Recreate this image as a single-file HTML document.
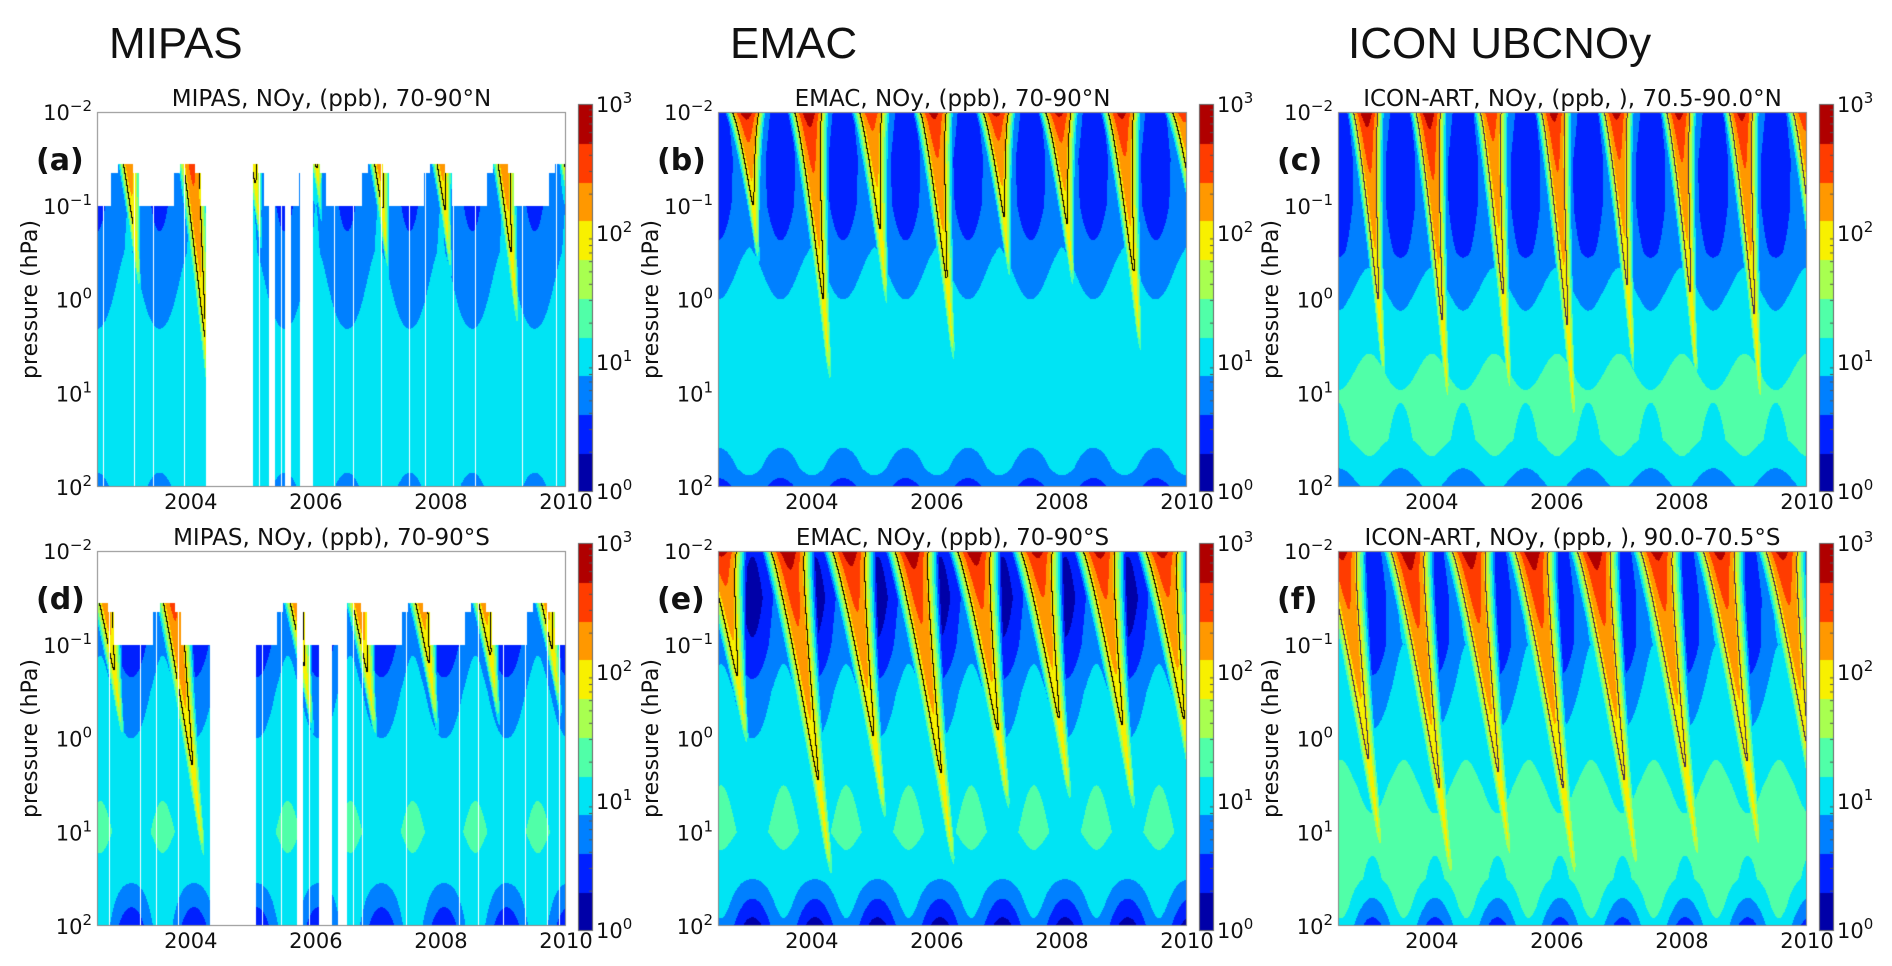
<!DOCTYPE html>
<html><head><meta charset="utf-8">
<style>
html,body{margin:0;padding:0;background:#fff;}
#wrap{position:relative;width:1892px;height:966px;overflow:hidden;}
canvas,svg{position:absolute;left:0;top:0;}
text{font-family:"DejaVu Sans","Liberation Sans",sans-serif;fill:#111;}
</style></head>
<body>
<div id="wrap">
<canvas id="cv" width="1892" height="966"></canvas>
<svg id="sv" width="1892" height="966">
  <text x="109" y="58" style="font-family:'Liberation Sans',sans-serif;font-size:44px">MIPAS</text>
  <text x="730" y="58" style="font-family:'Liberation Sans',sans-serif;font-size:44px">EMAC</text>
  <text x="1348" y="58" style="font-family:'Liberation Sans',sans-serif;font-size:44px">ICON UBCNOy</text>
</svg>
</div>
<script>
// ---- data ----
const levelColors=['#0000a8','#0020ff','#0080ff','#00e4f4','#50ffa8','#a8ff50','#f8f000','#ff9800','#ff3c00','#b00000'];
const xTicks=[2004,2006,2008,2010];
const yTickExp=[-2,-1,0,1,2];
const cbTickExp=[3,2,1,0];
const tStart=2002.5, tEnd=2010;
const bgZ=[-2,-1.5,-1,-0.5,0,0.5,1,1.5,1.8,2];
// background log10(NOy) profiles
const bgMipasN=[0.75,0.7,0.72,0.78,0.9,1.02,1.08,1.1,1.05,0.95];
const bgEmacN=[0.75,0.62,0.64,0.78,1.0,1.05,1.06,1.02,0.86,0.62];
const bgIconN=[0.75,0.62,0.62,0.7,0.95,1.12,1.26,1.22,1.02,0.8];
const bgMipasS=[0.6,0.5,0.62,0.85,1.0,1.12,1.18,1.05,0.85,0.7];
const bgEmacS=[0.62,0.45,0.58,0.85,1.0,1.14,1.2,1.0,0.72,0.5];
const bgIconS=[0.8,0.65,0.65,0.86,1.05,1.2,1.3,1.26,1.02,0.8];
const seasAmpN=[0.3,0.25,0.18,0.13,0.1,0.06,0.05,0.06,0.12,0.15];
const seasAmpS=[0.3,0.3,0.25,0.15,0.1,0.06,0.06,0.1,0.25,0.35];
// descent events: time at top, bottom log10(p), peak log10(NOy)
const evTimesN=[2002.95,2003.95,2004.95,2005.95,2006.95,2007.95,2008.95,2009.95];
const evTimesS=[2002.55,2003.62,2004.6,2005.6,2006.6,2007.6,2008.6,2009.6];
const depthMipasN=[-0.4,1.15,-0.9,-1.2,-0.6,-0.6,0.0,-1.0];
const depthEmacN=[-0.7,0.6,-0.2,0.4,-0.5,-0.4,0.3,-1.0];
const depthIconN=[0.6,0.9,0.8,1.1,0.5,0.6,0.9,-0.2];
const depthMipasS=[-0.3,1.0,-0.5,-0.4,-0.3,-0.4,-0.5,-0.6];
const depthEmacS=[-0.2,1.2,0.6,1.1,0.5,0.4,0.5,0.4];
const depthIconS=[1.0,1.3,1.1,1.3,1.2,1.1,1.0,0.8];
const peakN=[3.0,3.0,2.7,2.9,2.9,2.9,2.9,2.7];
const peakS=[2.9,3.0,3.0,3.0,3.0,2.9,2.9,2.9];
// MIPAS missing data
const gapsN=[[2004.25,2005.0],[2005.25,2005.35],[2005.5,2005.6],[2005.75,2005.95]];
const gapsS=[[2004.3,2005.05],[2005.7,2005.8],[2006.05,2006.25],[2006.35,2006.5]];
const whiteLinesN=[2002.6,2002.85,2003.1,2003.4,2003.65,2003.9,2005.1,2005.2,2005.45,2005.7,2006.0,2006.1,2006.3,2006.45,2006.6,2006.8,2007.05,2007.3,2007.5,2007.75,2008.2,2008.55,2008.85,2009.3,2009.6,2009.85];
const whiteLinesS=[2002.7,2002.9,2003.2,2003.45,2003.8,2004.05,2005.15,2005.3,2005.45,2005.6,2005.9,2006.0,2006.6,2006.75,2006.9,2007.2,2007.45,2007.7,2008.0,2008.3,2008.6,2009.0,2009.35,2009.7,2009.9];

const panels=[
 {id:'a',x:97,y:112,title:'MIPAS, NOy, (ppb), 70-90°N',bg:bgMipasN,sa:seasAmpN,sp:0.0,ev:evTimesN,dep:depthMipasN,pk:peakN,slope:0.12,w0:0.2,mipas:true,gaps:gapsN,lines:whiteLinesN,cl:'#000'},
 {id:'b',x:718,y:112,title:'EMAC, NOy, (ppb), 70-90°N',bg:bgEmacN,sa:seasAmpN,sp:0.0,ev:evTimesN,dep:depthEmacN,pk:peakN,slope:0.12,w0:0.22,cl:'#000'},
 {id:'c',x:1338,y:112,title:'ICON-ART, NOy, (ppb, ), 70.5-90.0°N',bg:bgIconN,sa:seasAmpN,sp:0.0,ev:evTimesN,dep:depthIconN,pk:peakN,slope:0.1,w0:0.2,cl:'#3c2850'},
 {id:'d',x:97,y:551,title:'MIPAS, NOy, (ppb), 70-90°S',bg:bgMipasS,sa:seasAmpS,sp:0.55,ev:evTimesS,dep:depthMipasS,pk:peakS,slope:0.18,w0:0.24,mipas:true,gaps:gapsS,lines:whiteLinesS,cl:'#000'},
 {id:'e',x:718,y:551,title:'EMAC, NOy, (ppb), 70-90°S',bg:bgEmacS,sa:seasAmpS,sp:0.55,ev:evTimesS,dep:depthEmacS,pk:peakS,slope:0.2,w0:0.27,cl:'#000'},
 {id:'f',x:1338,y:551,title:'ICON-ART, NOy, (ppb, ), 90.0-70.5°S',bg:bgIconS,sa:seasAmpS,sp:0.55,ev:evTimesS,dep:depthIconS,pk:peakS,slope:0.2,w0:0.27,cl:'#3c2850'}
];
const W=469,H=375;
function interp(xs,ys,x){if(x<=xs[0])return ys[0];for(let i=1;i<xs.length;i++){if(x<=xs[i]){const f=(x-xs[i-1])/(xs[i]-xs[i-1]);return ys[i-1]+f*(ys[i]-ys[i-1]);}}return ys[ys.length-1];}
function hexRGB(h){return [parseInt(h.substr(1,2),16),parseInt(h.substr(3,2),16),parseInt(h.substr(5,2),16)];}
const rgb=levelColors.map(hexRGB);
const cv=document.getElementById('cv');const ctx=cv.getContext('2d');
ctx.fillStyle='#fff';ctx.fillRect(0,0,1892,966);
function xScale(p,t){return p.x+(t-tStart)/(tEnd-tStart)*W;}
function yScale(p,z){return p.y+(z+2)/4*H;}
function field(p,t,z){
  let v=interp(bgZ,p.bg,z)+interp(bgZ,p.sa,z)*Math.cos(2*Math.PI*(t-p.sp));
  for(let i=0;i<p.ev.length;i++){
    const zb=p.dep[i],amp=p.pk[i];
    let frac=(z+2)/(zb+2),peak;
    if(z<zb){peak=amp-(amp-1.8)*Math.sqrt(frac);}else{peak=1.8-2.5*(z-zb);frac=1;}
    const tc=p.ev[i]+(z+2)*p.slope;
    const w=p.w0*(1-0.75*Math.min(frac,1));
    const d=(t-tc)/w;
    const val=peak-1.0*d*d;
    if(val>v)v=val;
  }
  return v;
}
function masked(p,t,z){
  if(!p.mipas)return false;
  for(const g of p.gaps){if(t>=g[0]&&t<=g[1])return true;}
  for(const l of p.lines){if(Math.abs(t-l)<0.0045)return true;}
  let top=-1.0;
  for(const e of p.ev){if(Math.abs(t-e)<0.22){top=Math.min(top,-1.35);} if(Math.abs(t-e)<0.12)top=-1.45;}
  return z<top;
}
panels.forEach(p=>{
  const img=ctx.createImageData(W,H);const vals=new Float32Array(W*H);
  for(let j=0;j<H;j++){const z=-2+(j+0.5)/H*4;
    for(let i=0;i<W;i++){const t=tStart+(i+0.5)/W*(tEnd-tStart);
      vals[j*W+i]=masked(p,t,z)?-99:field(p,t,z);}}
  for(let j=0;j<H;j++)for(let i=0;i<W;i++){
    const v=vals[j*W+i];const k=(j*W+i)*4;
    if(v<-50){img.data[k]=255;img.data[k+1]=255;img.data[k+2]=255;img.data[k+3]=255;continue;}
    let b=Math.floor(v/0.3);b=Math.max(0,Math.min(9,b));
    let c=rgb[b];
    const L=1.95;
    const r=i<W-1?vals[j*W+i+1]:v, dn=j<H-1?vals[(j+1)*W+i]:v;
    if(r>-50&&dn>-50&&(((v>=L)!==(r>=L))||((v>=L)!==(dn>=L)))) c=hexRGB(p.cl);
    img.data[k]=c[0];img.data[k+1]=c[1];img.data[k+2]=c[2];img.data[k+3]=255;}
  ctx.putImageData(img,p.x,p.y);
  ctx.strokeStyle='#888';ctx.lineWidth=1;ctx.strokeRect(p.x+0.5,p.y+0.5,W-1,H-1);
  // colorbar
  const cbx=p.x+481,cby=p.y-8,cbh=387,cbw=14;
  for(let b=0;b<10;b++){ctx.fillStyle=levelColors[b];const y1=cby+cbh-(b+1)*cbh/10;ctx.fillRect(cbx,Math.round(y1),cbw,Math.ceil(cbh/10)+1);}
  ctx.strokeStyle='#666';ctx.strokeRect(cbx+0.5,cby+0.5,cbw,cbh);
  ctx.strokeStyle='#555';
  for(let d=0;d<3;d++)for(let m=2;m<10;m++){const y=cby+cbh-(d+Math.log10(m))/3*cbh;ctx.beginPath();ctx.moveTo(cbx+cbw-3,y);ctx.lineTo(cbx+cbw,y);ctx.stroke();}
});
// text via SVG
const sv=document.getElementById('sv');const NS='http://www.w3.org/2000/svg';
function tx(x,y,s,size,anchor,name,extra){const e=document.createElementNS(NS,'text');e.setAttribute('x',x);e.setAttribute('y',y);e.setAttribute('font-size',size);e.setAttribute('text-anchor',anchor||'start');if(extra)for(const k in extra)e.setAttribute(k,extra[k]);e.textContent=s;


sv.appendChild(e);return e;}
function pow(x,y,exp,anchor,name){const e=document.createElementNS(NS,'text');e.setAttribute('x',x);e.setAttribute('y',y);e.setAttribute('font-size',21);e.setAttribute('text-anchor',anchor);
const a=document.createElementNS(NS,'tspan');a.textContent='10';e.appendChild(a);
const b=document.createElementNS(NS,'tspan');b.setAttribute('dy',-9);b.setAttribute('font-size',15);b.textContent=(exp<0?'\u2212'+(-exp):''+exp);e.appendChild(b);


sv.appendChild(e);}
panels.forEach(p=>{
  tx(p.x+W/2,p.y-6,p.title,23,'middle','panel-title-'+p.id);
  tx(p.x-61,p.y+58,'('+p.id+')',30,'start','panel-label-'+p.id,{'font-weight':'bold'});
  const yl=tx(0,0,'pressure (hPa)',22,'middle','y-axis-title-'+p.id);
  yl.setAttribute('transform','translate('+(p.x-60)+','+(p.y+H/2)+') rotate(-90)');
  yTickExp.forEach(e=>{pow(p.x-5,yScale(p,e)+8,e,'end','y-tick-'+p.id);});
  xTicks.forEach(t=>{tx(xScale(p,t),p.y+H+22,String(t),21,'middle','x-tick-'+p.id);});
  cbTickExp.forEach(e=>{pow(p.x+499,p.y-8+387-e/3*387+8,e,'start','colorbar-tick-'+p.id);});
});
</script>
</body></html>
